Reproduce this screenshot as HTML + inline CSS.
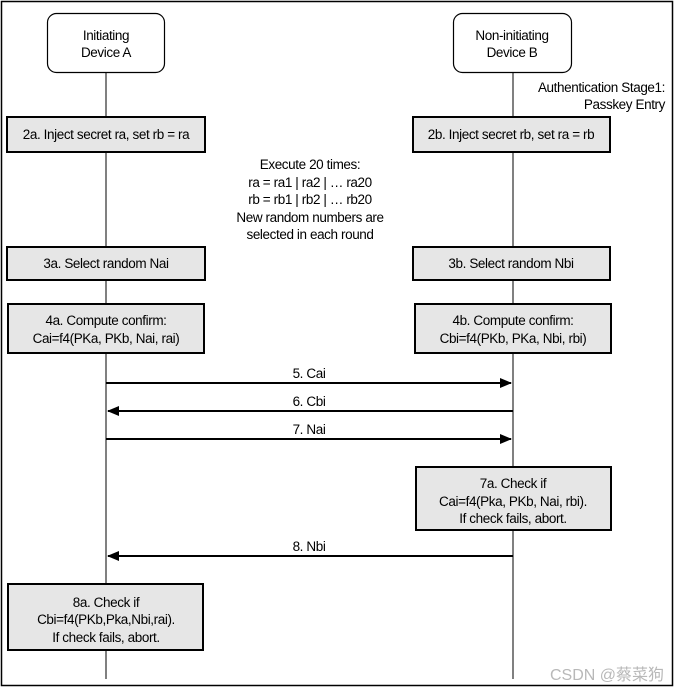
<!DOCTYPE html>
<html><head><meta charset="utf-8"><style>
html,body{margin:0;padding:0;background:#fff;}
svg{display:block;}
text{font-family:"Liberation Sans",Arial,sans-serif;font-size:13.5px;fill:#000;letter-spacing:-0.4px;}
</style></head><body>
<svg width="676" height="691" viewBox="0 0 676 691" xmlns="http://www.w3.org/2000/svg">
<defs>
<marker id="ah" markerWidth="12" markerHeight="10" refX="11" refY="5" orient="auto" markerUnits="userSpaceOnUse">
<path d="M0,0 L12,5 L0,10 z" fill="#000"/></marker>
</defs>
<rect x="1.5" y="1.5" width="671" height="684" fill="#fff" stroke="#000" stroke-width="1.5"/>
<!-- lifelines -->
<line x1="106" y1="72" x2="106" y2="679" stroke="#000" stroke-width="1"/>
<line x1="513" y1="72" x2="513" y2="679" stroke="#000" stroke-width="1"/>
<!-- headers -->
<rect x="47.5" y="13.5" width="117" height="59" rx="9" fill="#fff" stroke="#000" stroke-width="1.2"/>
<text x="106" y="40" text-anchor="middle">Initiating</text>
<text x="106" y="57" text-anchor="middle">Device A</text>
<rect x="453.5" y="13.5" width="118" height="59" rx="9" fill="#fff" stroke="#000" stroke-width="1.2"/>
<text x="512" y="40" text-anchor="middle">Non-initiating</text>
<text x="512" y="57" text-anchor="middle">Device B</text>
<text x="665" y="92" text-anchor="end">Authentication Stage1:</text>
<text x="665" y="109" text-anchor="end">Passkey Entry</text>
<!-- 2 -->
<g fill="#e6e6e6" stroke="#000" stroke-width="2">
<rect x="7" y="117" width="198" height="35"/>
<rect x="413" y="117" width="197" height="35"/>
<rect x="7" y="247" width="198" height="33"/>
<rect x="413" y="247" width="197" height="33"/>
<rect x="8" y="304" width="196" height="49"/>
<rect x="415" y="304" width="196" height="49"/>
<rect x="416" y="467" width="195" height="63"/>
<rect x="8" y="584" width="195" height="66"/>
</g>
<text x="106" y="139" text-anchor="middle">2a. Inject secret ra, set rb = ra</text>
<text x="511" y="139" text-anchor="middle">2b. Inject secret rb, set ra = rb</text>
<text x="310" y="169" text-anchor="middle">Execute 20 times:</text>
<text x="310" y="187" text-anchor="middle">ra = ra1 | ra2 | … ra20</text>
<text x="310" y="204" text-anchor="middle">rb = rb1 | rb2 | … rb20</text>
<text x="310" y="222" text-anchor="middle">New random numbers are</text>
<text x="310" y="239" text-anchor="middle">selected in each round</text>
<text x="106" y="268" text-anchor="middle">3a. Select random Nai</text>
<text x="511" y="268" text-anchor="middle">3b. Select random Nbi</text>
<text x="106" y="325" text-anchor="middle">4a. Compute confirm:</text>
<text x="106" y="343" text-anchor="middle">Cai=f4(PKa, PKb, Nai, rai)</text>
<text x="513" y="325" text-anchor="middle">4b. Compute confirm:</text>
<text x="513" y="343" text-anchor="middle">Cbi=f4(PKb, PKa, Nbi, rbi)</text>
<!-- arrows -->
<g stroke="#000" stroke-width="2">
<line x1="106" y1="383" x2="511" y2="383" marker-end="url(#ah)"/>
<line x1="513" y1="411" x2="108" y2="411" marker-end="url(#ah)"/>
<line x1="106" y1="439" x2="511" y2="439" marker-end="url(#ah)"/>
<line x1="513" y1="556" x2="108" y2="556" marker-end="url(#ah)"/>
</g>
<text x="309" y="378" text-anchor="middle">5. Cai</text>
<text x="309" y="406" text-anchor="middle">6. Cbi</text>
<text x="309" y="434" text-anchor="middle">7. Nai</text>
<text x="309" y="551" text-anchor="middle">8. Nbi</text>
<text x="513" y="488" text-anchor="middle">7a. Check if</text>
<text x="513" y="506" text-anchor="middle">Cai=f4(Pka, PKb, Nai, rbi).</text>
<text x="513" y="523" text-anchor="middle">If check fails, abort.</text>
<text x="106" y="607" text-anchor="middle">8a. Check if</text>
<text x="106" y="624" text-anchor="middle">Cbi=f4(PKb,Pka,Nbi,rai).</text>
<text x="106" y="642" text-anchor="middle">If check fails, abort.</text>
<text x="664" y="680" text-anchor="end" style="font-family:'Liberation Sans','Noto Sans CJK SC',sans-serif;font-size:16px;fill:#b8b8b8;letter-spacing:0">CSDN @蔡菜狗</text>
</svg>
</body></html>
